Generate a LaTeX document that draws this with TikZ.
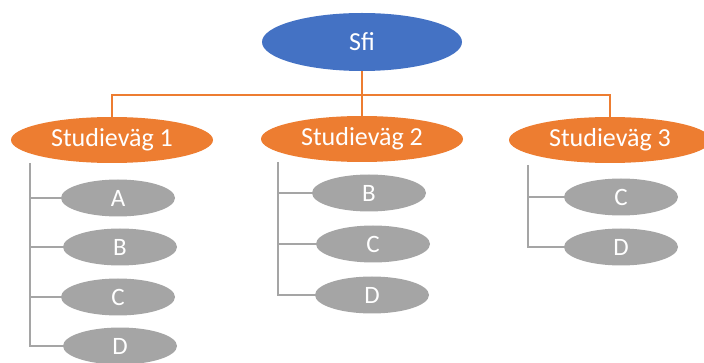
\documentclass[tikz,border=0pt]{standalone}
\usepackage{fontspec}
\setmainfont{Carlito}
\usetikzlibrary{shapes.geometric}
\definecolor{cblue}{HTML}{4472C4}
\definecolor{corange}{HTML}{ED7D31}
\definecolor{cgray}{HTML}{A5A5A5}
\begin{document}
\begin{tikzpicture}[x=1pt,y=-1pt,
  ell/.style={ellipse,inner sep=0pt,text=white,anchor=center},
  topbox/.style={ell,fill=cblue,minimum width=200pt,minimum height=58pt,font=\fontsize{26}{30}\selectfont},
  midbox/.style={ell,fill=corange,minimum width=202pt,minimum height=46pt,font=\fontsize{26}{30}\selectfont},
  leafbox/.style={ell,fill=cgray,minimum width=114pt,minimum height=37pt,font=\fontsize{25}{29}\selectfont},
  oline/.style={draw=corange,line width=2.2pt},
  gline/.style={draw=cgray,line width=2.6pt}]
\clip (0,0) rectangle (704,363);
\useasboundingbox (0,0) rectangle (704,363);
% top
\node[topbox] (sfi) at (362,42) {Sfi};
% middle
\node[midbox] (s1) at (112,140) {Studieväg 1};
\node[midbox] (s2) at (362,139) {Studieväg 2};
\node[midbox] (s3) at (610,140) {Studieväg 3};
\coordinate (hub) at (362,95);
\draw[oline] (sfi.south) -- (hub);
\draw[oline] (hub) -| (s1.north);
\draw[oline] (hub) -| (s3.north);
\draw[oline] (hub) -- (s2.north);
% leaves column 1
\node[leafbox] (a1) at (118,198) {A};
\node[leafbox] (b1) at (120,247) {B};
\node[leafbox] (c1) at (118,297) {C};
\node[leafbox] (d1) at (120,346) {D};
\coordinate (t1) at (30,163);
\draw[gline] (t1) |- (d1.west);
\draw[gline] (a1.west -| t1) -- (a1.west);
\draw[gline] (b1.west -| t1) -- (b1.west);
\draw[gline] (c1.west -| t1) -- (c1.west);
% column 2
\node[leafbox] (b2) at (369,193) {B};
\node[leafbox] (c2) at (373,244) {C};
\node[leafbox] (d2) at (372,295) {D};
\coordinate (t2) at (278,162);
\draw[gline] (t2) |- (d2.west);
\draw[gline] (b2.west -| t2) -- (b2.west);
\draw[gline] (c2.west -| t2) -- (c2.west);
% column 3
\node[leafbox] (c3) at (621,197) {C};
\node[leafbox] (d3) at (621,247) {D};
\coordinate (t3) at (528,165);
\draw[gline] (t3) |- (d3.west);
\draw[gline] (c3.west -| t3) -- (c3.west);
\end{tikzpicture}
\end{document}
